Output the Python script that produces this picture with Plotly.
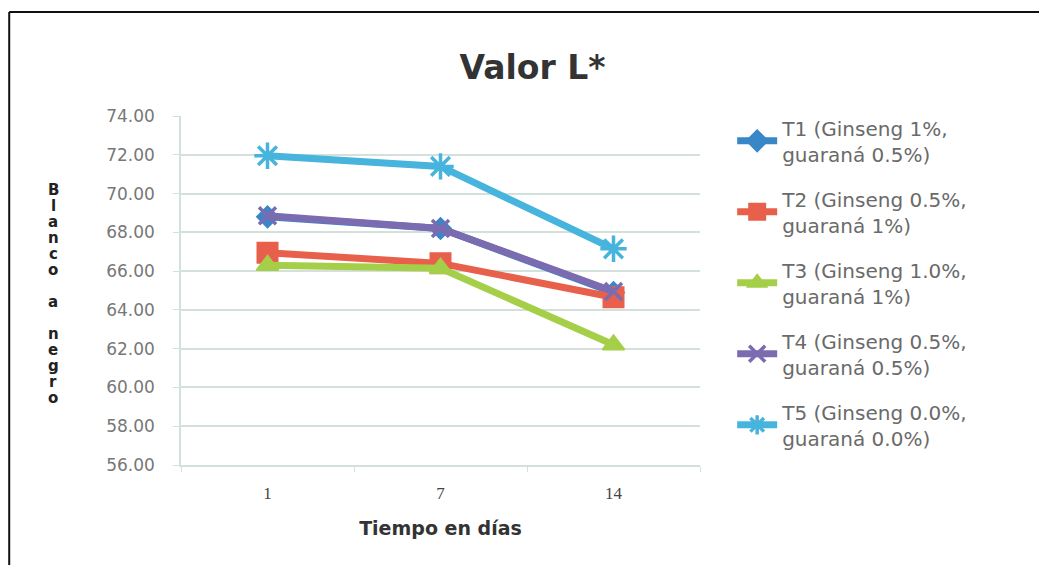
import plotly.graph_objects as go

dias = ["1", "7", "14"]
series_names = [
    "T1 (Ginseng 1%,<br>guaraná 0.5%)",
    "T2 (Ginseng 0.5%,<br>guaraná 1%)",
    "T3 (Ginseng 1.0%,<br>guaraná 1%)",
    "T4 (Ginseng 0.5%,<br>guaraná 0.5%)",
    "T5 (Ginseng 0.0%,<br>guaraná 0.0%)",
]
t1 = [68.80, 68.20, 64.90]
t2 = [66.95, 66.40, 64.65]
t3 = [66.30, 66.15, 62.20]
t4 = [68.85, 68.20, 64.95]
t5 = [71.95, 71.40, 67.15]
values = [t1, t2, t3, t4, t5]

colors = ["#3a87c8", "#e8604c", "#a5cf48", "#7b6bb0", "#46b4dc"]
symbols = ["diamond", "square", "triangle-up", "x-thin", "asterisk"]
msizes = [16, 20, 19, 17, 22]

fig = go.Figure()
for i, (name, vals) in enumerate(zip(series_names, values)):
    mk = dict(symbol=symbols[i], size=msizes[i], color=colors[i],
              line=dict(color=colors[i], width=2 if i < 3 else 3.5))
    fig.add_trace(go.Scatter(
        x=dias, y=vals, name=name, mode="lines+markers",
        line=dict(color=colors[i], width=7),
        marker=mk, legendgroup=f"g{i}",
    ))

grid = "#d3e0dc"
fig.update_layout(
    width=1047, height=569,
    margin=dict(l=173, r=355, t=108, b=112),
    paper_bgcolor="white", plot_bgcolor="white",
    showlegend=True,
    title=dict(text="<b>Valor L*</b>", x=0.501, xanchor="center",
               y=0.896, yanchor="middle",
               font=dict(family="DejaVu Sans", size=33, color="#333333")),
    legend=dict(x=1.062, xanchor="left", y=1.022, yanchor="top",
                font=dict(family="DejaVu Sans", size=20, color="#6a6a6a"),
                tracegroupgap=16, traceorder="grouped", maxheight=1.0,
                itemwidth=40, bgcolor="rgba(0,0,0,0)"),
    xaxis=dict(type="category", range=[-0.5, 2.5], showgrid=False,
               showline=True, linecolor=grid, linewidth=1.5,
               ticks="outside", tickson="boundaries", ticklen=5, tickcolor=grid,
               ticklabelstandoff=12,
               tickfont=dict(family="Liberation Serif", size=17, color="#444444"),
               title=dict(text="<b>Tiempo en días</b>", standoff=20,
                          font=dict(family="DejaVu Sans", size=19, color="#333333"))),
    yaxis=dict(range=[56, 74], dtick=2, tickformat=".2f",
               showgrid=True, gridcolor=grid, gridwidth=1.5,
               showline=True, linecolor=grid, linewidth=1.5,
               ticks="outside", ticklen=6, tickcolor=grid,
               ticklabelstandoff=15,
               tickfont=dict(family="DejaVu Sans", size=17, color="#777777"),
               zeroline=False),
)

# vertical stacked y-axis title
ytitle = "Blanco a negro"
for k, ch in enumerate(ytitle):
    if ch == " ":
        continue
    ypix = 190 + 16 * k
    fig.add_annotation(text="<b>" + ch + "</b>", xref="paper", yref="paper",
                       x=-0.2466, y=(465 - ypix) / 349, showarrow=False,
                       xanchor="center", yanchor="middle",
                       font=dict(family="DejaVu Sans", size=15, color="#222222"))

# chart frame
fig.add_shape(type="line", xref="paper", yref="paper",
              x0=-0.331, x1=1.70, y0=1.298, y1=1.298,
              line=dict(color="#111111", width=2))
fig.add_shape(type="line", xref="paper", yref="paper",
              x0=-0.331, x1=-0.331, y0=1.298, y1=-0.2865,
              line=dict(color="#111111", width=2))

fig.write_html("out.html")
